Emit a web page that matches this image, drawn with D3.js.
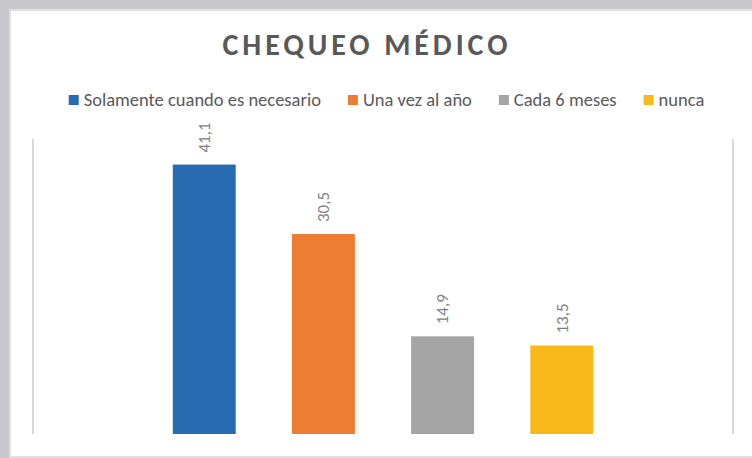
<!DOCTYPE html>
<html>
<head>
<meta charset="utf-8">
<script src="https://cdn.jsdelivr.net/npm/d3@7"></script>
<style>
  body { margin: 0; background: #c8c8cc; }
  svg { display: block; }
</style>
</head>
<body>
<svg id="chart"></svg>
<script>
// data
const series = ["Solamente cuando es necesario", "Una vez al año", "Cada 6 meses", "nunca"]
const values = [41.1, 30.5, 14.9, 13.5]
const colors = ["#276bb0", "#ed7d31", "#a5a5a5", "#f9b81a"]
const yMax = 45

const width = 752
const height = 458
const font = "Carlito, 'Open Sans', sans-serif"

const svg = d3.select("#chart")
  .attr("width", width)
  .attr("height", height)

// frame
svg.append("rect").attr("x", 0).attr("y", 0).attr("width", width).attr("height", height).attr("fill", "#c8c8cc")
svg.append("rect").attr("x", 9).attr("y", 9).attr("width", width - 9).attr("height", height - 9).attr("fill", "#e0e0e2")
svg.append("rect").attr("x", 11).attr("y", 11).attr("width", width - 11).attr("height", 445).attr("fill", "#ffffff")

// title
const title = svg.append("text")
  .attr("x", 222.5)
  .attr("y", 55)
  .style("font-family", font)
  .style("font-weight", "bold")
  .style("font-size", "30px")
  .style("fill", "#595959")
  .text("CHEQUEO MÉDICO")
const tw = title.node().getComputedTextLength()
title.style("letter-spacing", ((285 - tw) / 13) + "px")

// scales
const x = d3.scaleBand()
  .domain(series)
  .range([33, 733])
  .paddingInner(0.472)
  .paddingOuter(1.173)

const y = d3.scaleLinear()
  .domain([0, yMax])
  .range([434, 139])

// vertical gridlines at the category edges
svg.append("g")
  .selectAll("line")
  .data(x.range())
  .enter()
  .append("line")
  .attr("x1", d => d).attr("x2", d => d)
  .attr("y1", y(yMax)).attr("y2", y(0))
  .attr("stroke", "#d9d9d9")
  .attr("stroke-width", 2)

// bars
svg.append("g")
  .selectAll("rect")
  .data(d3.zip(series, values, colors))
  .enter()
  .append("rect")
  .attr("x", d => x(d[0]))
  .attr("y", d => y(d[1]))
  .attr("width", x.bandwidth())
  .attr("height", d => y(0) - y(d[1]))
  .attr("fill", d => d[2])

// data labels, rotated
svg.append("g")
  .selectAll("text")
  .data(d3.zip(series, values))
  .enter()
  .append("text")
  .attr("transform", d => "translate(" + (x(d[0]) + x.bandwidth() / 2) + "," + (y(d[1]) - 12) + ")rotate(-90)")
  .attr("dy", "0.34em")
  .style("font-family", font)
  .style("font-size", "17px")
  .style("fill", "#808080")
  .text(d => d3.format(".1f")(d[1]).replace(".", ","))

// legend
const legend = svg.append("g")
const items = legend.selectAll("g")
  .data(d3.zip(series, colors))
  .enter()
  .append("g")
items.append("rect")
  .attr("y", 95)
  .attr("width", 10)
  .attr("height", 10)
  .attr("fill", d => d[1])
items.append("text")
  .attr("x", 15)
  .attr("y", 106)
  .style("font-family", font)
  .style("font-size", "18.5px")
  .style("fill", "#595959")
  .text(d => d[0])

let pos = 0
const offsets = []
items.each(function () {
  offsets.push(pos)
  pos += 15 + d3.select(this).select("text").node().getComputedTextLength() + 27
})
const total = pos - 27
const start = 386.5 - total / 2
items.attr("transform", (d, i) => "translate(" + (start + offsets[i]) + ",0)")
</script>
</body>
</html>
